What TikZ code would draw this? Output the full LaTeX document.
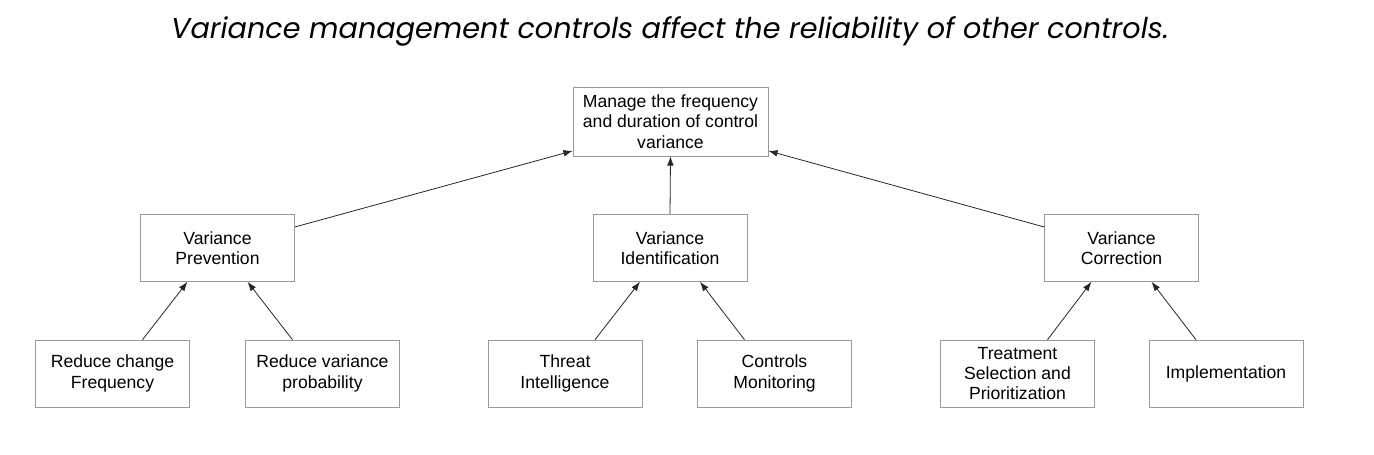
\documentclass[tikz,border=0pt]{standalone}
\usepackage{fontspec}
\setmainfont{Liberation Sans}
\newfontfamily\titlefont{Poppins}
\usetikzlibrary{arrows.meta}
\begin{document}
\begin{tikzpicture}[x=0.75pt, y=0.75pt,
  box/.style={draw=black!40, align=center, inner sep=0pt, font=\fontsize{13.2}{15.2}\selectfont},
  sbox/.style={box, minimum width=115.5pt, minimum height=50.25pt},
  arr/.style={draw=black!85, line width=0.6pt, -{Latex[length=7pt,width=5pt]}}]
\useasboundingbox (0,0) rectangle (1374,-454);
\node[font=\titlefont\itshape\fontsize{21.5}{25}\selectfont] (title) at (670,-31) {Variance management controls affect the reliability of other controls.};
\node[box, minimum width=146.25pt, minimum height=51.75pt] (manage) at (670.5,-121.5) {Manage the frequency\\and duration of control\\variance};
\node[sbox] (prev) at (217.5,-248) {Variance\\Prevention};
\node[sbox] (ident) at (670,-248) {Variance\\Identification};
\node[sbox] (corr) at (1121.5,-248) {Variance\\Correction};
\node[sbox] (rcf) at (112.5,-373.5) {Reduce change\\Frequency};
\node[sbox] (rvp) at (322.5,-373.5) {Reduce variance\\probability};
\node[sbox] (threat) at (565,-373.5) {Threat\\Intelligence};
\node[sbox] (mon) at (774.5,-373.5) {Controls\\Monitoring};
\node[sbox] (treat) at (1017.5,-373.5) {Treatment\\Selection and\\Prioritization};
\node[sbox] (impl) at (1226,-373.5) {Implementation};
\draw[arr] ([yshift=15.75pt]prev.east) -- ([yshift=-22pt]manage.west);
\draw[arr] (ident.north) -- (manage.south);
\draw[arr] ([yshift=15.75pt]corr.west) -- ([yshift=-22pt]manage.east);
\draw[arr] ([xshift=22.5pt]rcf.north) -- ([xshift=-22.5pt]prev.south);
\draw[arr] ([xshift=-22.5pt]rvp.north) -- ([xshift=22.5pt]prev.south);
\draw[arr] ([xshift=22.5pt]threat.north) -- ([xshift=-22.5pt]ident.south);
\draw[arr] ([xshift=-22.5pt]mon.north) -- ([xshift=22.5pt]ident.south);
\draw[arr] ([xshift=22.5pt]treat.north) -- ([xshift=-22.5pt]corr.south);
\draw[arr] ([xshift=-22.5pt]impl.north) -- ([xshift=22.5pt]corr.south);
\end{tikzpicture}
\end{document}
